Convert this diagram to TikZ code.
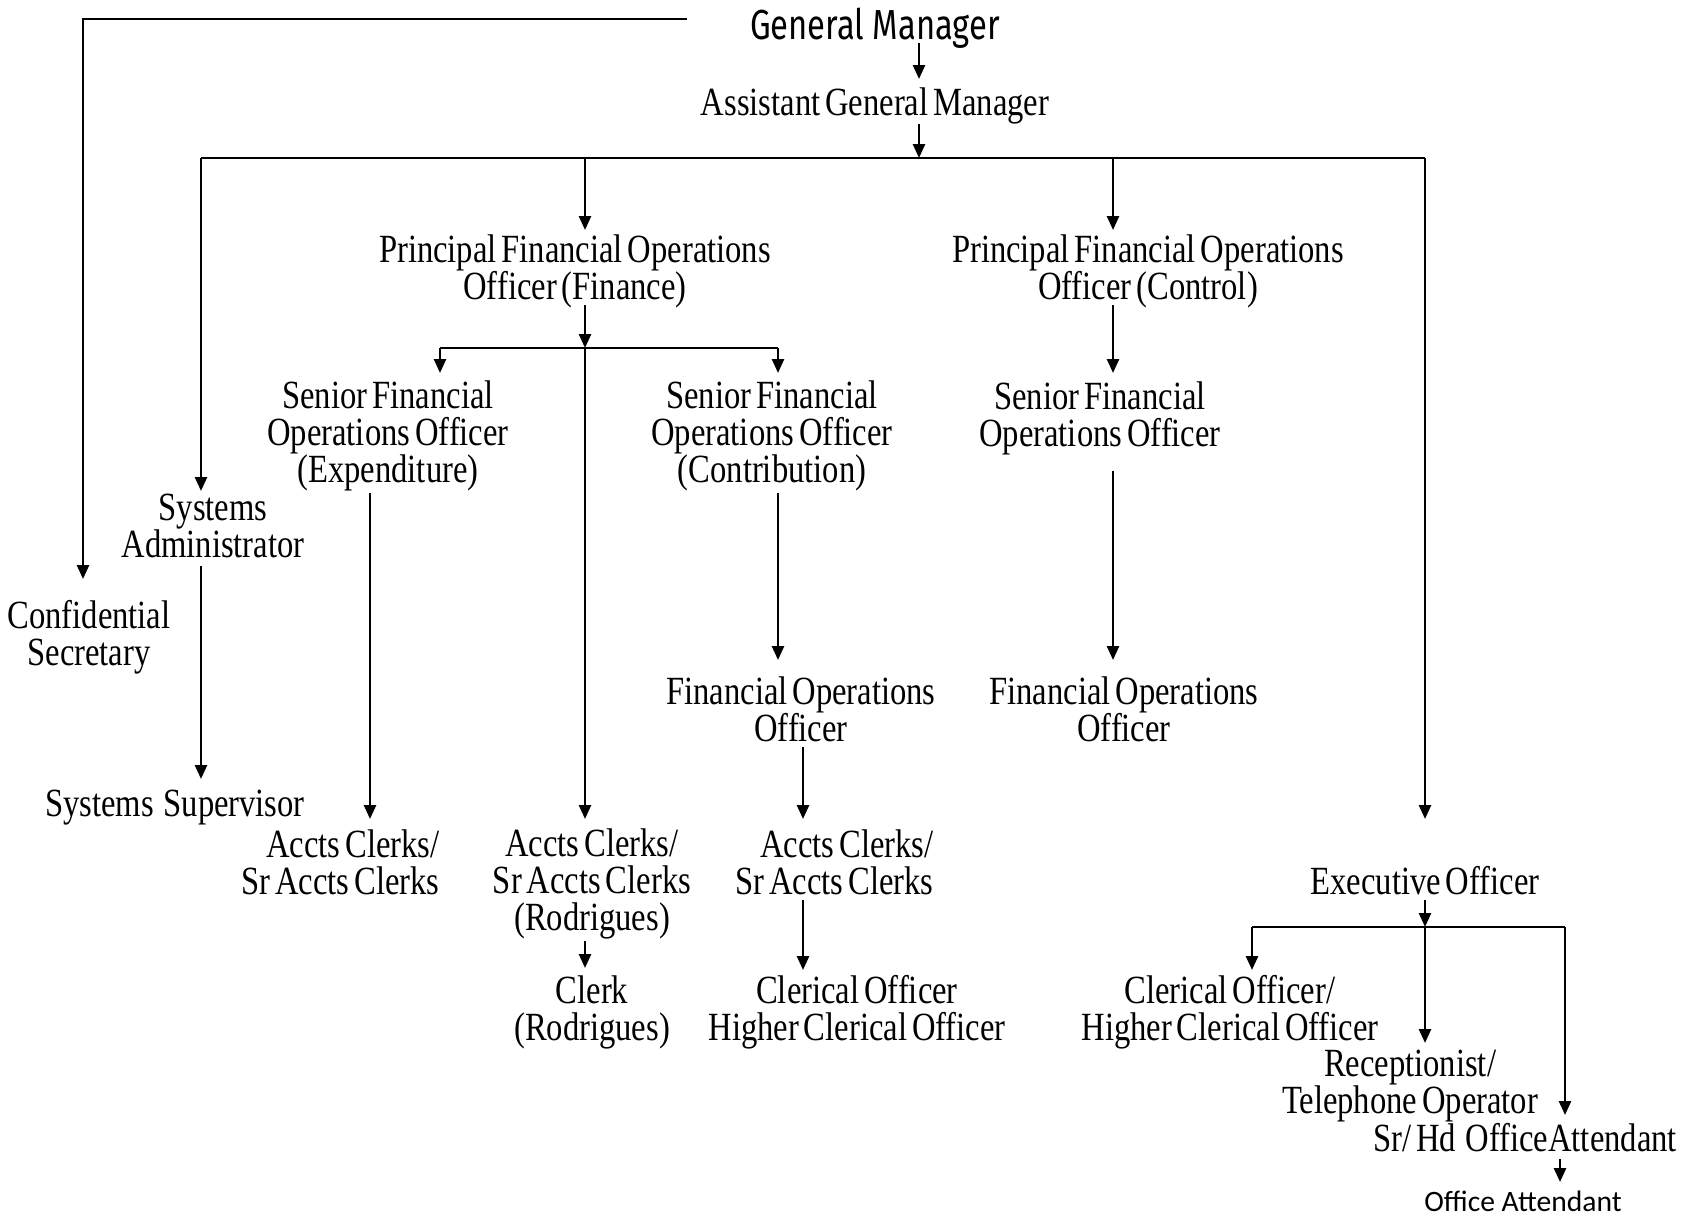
\documentclass[tikz,border=0pt]{standalone}
\usepackage{fontspec}
\usetikzlibrary{arrows.meta}
\newfontfamily\tnr[FakeStretch=0.815,WordSpace=0.6]{Liberation Serif}
\newfontfamily\gmf[FakeStretch=0.78]{Fira Sans}
\newfontfamily\calfnt{Carlito}
\begin{document}
\begin{tikzpicture}[x=0.5pt,y=-0.5pt,
  lbl/.style={font=\tnr\fontsize{20}{18.5}\selectfont, align=center, inner sep=0pt},
  arr/.style={-{Triangle[length=7pt,width=6pt]}, line width=1.3pt},
  ln/.style={line width=1.3pt}]
\useasboundingbox (0,0) rectangle (1690,1217);
% nodes
\node[inner sep=0pt,font=\gmf\fontsize{21}{21}\selectfont] (gm) at (875,28) {General Manager};
\node[lbl] (agm) at (875,106) {Assistant General Manager};
\node[lbl] (pfoF) at (575,271) {Principal Financial Operations\\Officer (Finance)};
\node[lbl] (pfoC) at (1148,271) {Principal Financial Operations\\Officer (Control)};
\node[lbl] (sfoE) at (388,436) {Senior Financial\\Operations Officer\\(Expenditure)};
\node[lbl] (sfoC) at (772,436) {Senior Financial\\Operations Officer\\(Contribution)};
\node[lbl] (sfoK) at (1100,418) {Senior Financial\\Operations Officer};
\node[lbl] (sysA) at (213,526) {Systems\\Administrator};
\node[lbl] (conf) at (89,637) {Confidential\\Secretary};
\node[lbl] (sysS) at (175,808) {Systems\ \ Supervisor};
\node[lbl] (focC) at (801,709) {Financial Operations\\Officer};
\node[lbl] (focK) at (1124,709) {Financial Operations\\Officer};
\node[lbl,align=right,anchor=east] (accE) at (440,862) {Accts Clerks/\\Sr Accts Clerks};
\node[lbl] (accR) at (592,884) {Accts Clerks/\\Sr Accts Clerks\\(Rodrigues)};
\node[lbl,align=right,anchor=east] (accC) at (934,862) {Accts Clerks/\\Sr Accts Clerks};
\node[lbl] (clk) at (592,1012) {Clerk\\(Rodrigues)};
\node[lbl] (cho) at (857,1012) {Clerical Officer\\Higher Clerical Officer};
\node[lbl] (exo) at (1425,881) {Executive Officer};
\node[lbl] (cho2) at (1230,1012) {Clerical Officer/\\Higher Clerical Officer};
\node[lbl] (rec) at (1410,1086) {Receptionist/\\Telephone Operator};
\node[lbl] (srhd) at (1525,1138) {Sr/ Hd\ \ OfficeAttendant};
\node[inner sep=0pt,font=\calfnt\fontsize{14.8}{14.8}\selectfont] (oa) at (1523,1201) {Office Attendant};
% junction coordinates
\coordinate (gmL) at (687,19);
\coordinate (confT) at (83,579);
\coordinate (b0) at (919,158);
\coordinate (bL) at (201,158);
\coordinate (bF) at (585,158);
\coordinate (bC) at (1113,158);
\coordinate (bR) at (1425,158);
\coordinate (jF) at (585,348);
\coordinate (jFL) at (440,348);
\coordinate (jFR) at (778,348);
\coordinate (jE) at (1425,927);
\coordinate (jEL) at (1252,927);
\coordinate (jER) at (1565,927);
% connectors
\draw[arr] (gmL) -| (confT);
\draw[arr] (919,43) -- (919,79);
\draw[arr] (919,124) -- (b0);
\draw[ln] (bL) -- (bR);
\draw[arr] (bL) -- (201,491);
\draw[arr] (bF) -- (585,230);
\draw[arr] (bC) -- (1113,230);
\draw[arr] (bR) -- (1425,819);
\draw[arr] (585,305) -- (jF);
\draw[arr] (jF) -- (585,819);
\draw[ln] (jFL) -- (jFR);
\draw[arr] (jFL) -- (440,373);
\draw[arr] (jFR) -- (778,373);
\draw[arr] (1113,305) -- (1113,373);
\draw[arr] (1113,471) -- (1113,660);
\draw[arr] (778,493) -- (778,660);
\draw[arr] (803,747) -- (803,819);
\draw[arr] (803,900) -- (803,970);
\draw[arr] (370,493) -- (370,819);
\draw[arr] (585,941) -- (585,968);
\draw[arr] (201,566) -- (201,779);
\draw[arr] (1425,900) -- (jE);
\draw[ln] (jEL) -- (jER);
\draw[arr] (jEL) -- (1252,970);
\draw[arr] (jE) -- (1425,1043);
\draw[arr] (jER) -- (1565,1115);
\draw[arr] (1560,1159) -- (1560,1182);
\end{tikzpicture}
\end{document}
